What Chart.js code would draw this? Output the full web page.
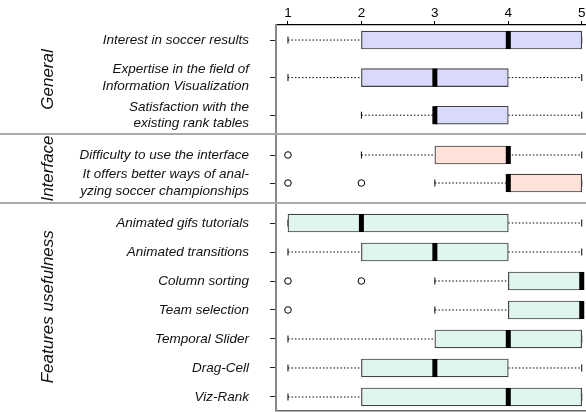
<!DOCTYPE html>
<html>
<head>
<meta charset="utf-8">
<script src="https://cdn.jsdelivr.net/npm/chart.js@4"></script>
<style>
  html, body { margin: 0; padding: 0; background: #fff; overflow: hidden; }
  #wrap { position: relative; width: 586px; height: 412px; }
  .panel { position: absolute; left: 0; width: 586px; }
  .sep { position: absolute; left: 0; width: 586px; height: 2px; background: #aaa; }
</style>
</head>
<body>
<div id="wrap">
  <div class="panel" style="top:0;height:134px"><canvas id="chart-general"></canvas></div>
  <div class="panel" style="top:134px;height:69px"><canvas id="chart-interface"></canvas></div>
  <div class="panel" style="top:203px;height:209px"><canvas id="chart-features"></canvas></div>
  <div class="sep" style="top:133px"></div>
  <div class="sep" style="top:202px"></div>
</div>
<script>
// Data (Likert scale 1..5)
const xTicks = [1, 2, 3, 4, 5];

const generalLabels = [
  "Interest in soccer results",
  ["Expertise in the field of", "Information Visualization"],
  ["Satisfaction with the", "existing rank tables"]
];
const generalLow  = [1, 1, 2];
const generalQ1   = [2, 2, 3];
const generalMed  = [4, 3, 3];
const generalQ3   = [5, 4, 4];
const generalHigh = [5, 5, 5];
const generalOut  = [[], [], []];

const interfaceLabels = [
  "Difficulty to use the interface",
  ["It offers better ways of anal-", "yzing soccer championships"]
];
const interfaceLow  = [2, 3];
const interfaceQ1   = [3, 4];
const interfaceMed  = [4, 4];
const interfaceQ3   = [4, 5];
const interfaceHigh = [5, 5];
const interfaceOut  = [[1], [1, 2]];

const featuresLabels = [
  "Animated gifs tutorials",
  "Animated transitions",
  "Column sorting",
  "Team selection",
  "Temporal Slider",
  "Drag-Cell",
  "Viz-Rank"
];
const featuresLow  = [1, 1, 3, 3, 1, 1, 1];
const featuresQ1   = [1, 2, 4, 4, 3, 2, 2];
const featuresMed  = [2, 3, 5, 5, 4, 3, 4];
const featuresQ3   = [4, 4, 5, 5, 5, 4, 5];
const featuresHigh = [5, 5, 5, 5, 5, 5, 5];
const featuresOut  = [[], [], [1, 2], [1], [], [], []];

const FONT = "'Liberation Sans', Arial, sans-serif";

// Build one boxplot panel
const panel = (id, opt) => {
  const rows = opt.labels.map((l, i) => i);

  let whisk = [];
  let caps = [];
  let outs = [];
  rows.forEach(i => {
    whisk.push({x: opt.low[i], y: i}, {x: opt.q1[i], y: i}, {x: null, y: null});
    whisk.push({x: opt.q3[i], y: i}, {x: opt.high[i], y: i}, {x: null, y: null});
    caps.push({x: opt.low[i], y: i}, {x: opt.high[i], y: i});
    opt.out[i].forEach(v => outs.push({x: v, y: i}));
  });

  new Chart(document.getElementById(id).getContext("2d"), {
    type: "scatter",
    data: {
      datasets: [{
        // median
        data: rows.map(i => ({x: opt.med[i], y: i})),
        pointStyle: "line",
        rotation: 90,
        radius: 9,
        borderWidth: 5,
        borderColor: "#000",
        clip: false,
        order: 0
      }, {
        // boxes
        type: "bar",
        indexAxis: "y",
        data: rows.map(i => ({x: [opt.q1[i], opt.q3[i]], y: i})),
        backgroundColor: opt.color,
        borderColor: "#444",
        borderWidth: 1.2,
        borderSkipped: false,
        barThickness: 18,
        order: 1
      }, {
        // outliers
        data: outs,
        pointStyle: "circle",
        radius: 3.3,
        borderWidth: 1,
        borderColor: "#000",
        backgroundColor: "#fff",
        order: 2
      }, {
        // whisker caps
        data: caps,
        pointStyle: "line",
        rotation: 90,
        radius: 3.5,
        borderWidth: 1,
        borderColor: "#000",
        order: 3
      }, {
        // whiskers
        data: whisk,
        showLine: true,
        spanGaps: false,
        pointRadius: 0,
        borderColor: "#000",
        borderWidth: 1,
        borderDash: [1.5, 2],
        order: 4
      }]
    },
    options: {
      responsive: true,
      maintainAspectRatio: false,
      animation: false,
      events: [],
      layout: { padding: 0, autoPadding: false },
      plugins: {
        legend: { display: false },
        tooltip: { enabled: false }
      },
      scales: {
        x: {
          type: "linear",
          display: opt.xDisplay,
          position: opt.xPosition,
          offset: false,
          beginAtZero: false,
          min: 0.837,
          max: 5.058,
          afterBuildTicks: (s) => { s.ticks = xTicks.map(v => ({value: v})); },
          afterFit: (s) => {
            s.height = opt.xHeight;
            s.paddingLeft = 0;
            s.paddingRight = 0;
          },
          grid: {
            display: true,
            offset: false,
            drawOnChartArea: false,
            drawTicks: opt.xTicks,
            tickLength: 4,
            color: "#000"
          },
          border: {
            display: true,
            color: opt.xBorder,
            width: opt.xBorderWidth
          },
          ticks: {
            display: opt.xTicks,
            padding: 1,
            color: "#000",
            font: { size: 13.5, family: FONT, lineHeight: 1 }
          }
        },
        y: {
          type: "linear",
          reverse: true,
          offset: false,
          beginAtZero: false,
          min: opt.yMin,
          max: opt.yMax,
          afterBuildTicks: (s) => { s.ticks = rows.map(v => ({value: v})); },
          afterFit: (s) => {
            s.width = 276;
            s.paddingTop = 0;
            s.paddingBottom = 0;
          },
          grid: {
            display: true,
            offset: false,
            drawOnChartArea: false,
            drawTicks: true,
            tickLength: 6,
            color: "#222"
          },
          border: {
            display: true,
            color: "#888",
            width: 2
          },
          ticks: {
            padding: 21,
            color: "#111",
            autoSkip: false,
            callback: (v) => opt.labels[v],
            font: { size: 13.5, style: "italic", family: FONT, lineHeight: 1.25 }
          },
          title: {
            display: true,
            text: opt.title,
            color: "#111",
            padding: { top: 38, bottom: 0 },
            font: { size: 17, style: "italic", family: FONT, lineHeight: 1.2 }
          }
        }
      }
    }
  });
};

panel("chart-general", {
  labels: generalLabels, low: generalLow, q1: generalQ1, med: generalMed,
  q3: generalQ3, high: generalHigh, out: generalOut,
  title: "General", color: "#d9d9fd",
  yMin: -0.4, yMax: 2.5,
  xDisplay: true, xPosition: "top", xTicks: true, xHeight: 25,
  xBorder: "#000", xBorderWidth: 1.3
});

panel("chart-interface", {
  labels: interfaceLabels, low: interfaceLow, q1: interfaceQ1, med: interfaceMed,
  q3: interfaceQ3, high: interfaceHigh, out: interfaceOut,
  title: "Interface", color: "#ffe2da",
  yMin: -0.75, yMax: 1.714,
  xDisplay: false, xPosition: "bottom", xTicks: false, xHeight: 0,
  xBorder: "#888", xBorderWidth: 1
});

panel("chart-features", {
  labels: featuresLabels, low: featuresLow, q1: featuresQ1, med: featuresMed,
  q3: featuresQ3, high: featuresHigh, out: featuresOut,
  title: "Features usefulness", color: "#e0f5ee",
  yMin: -0.69, yMax: 6.466,
  xDisplay: true, xPosition: "bottom", xTicks: false, xHeight: 1.5,
  xBorder: "#666", xBorderWidth: 1.5
});
</script>
</body>
</html>
